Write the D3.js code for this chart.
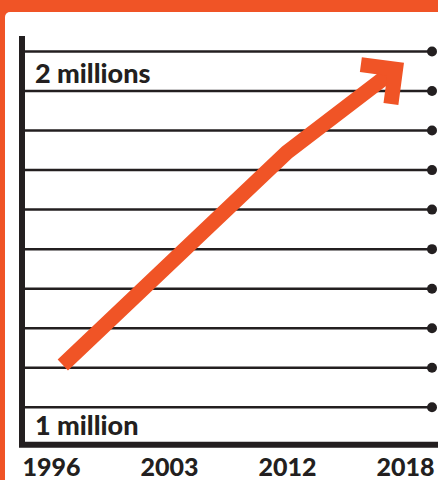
<!DOCTYPE html>
<html>
<head>
<meta charset="utf-8">
<script src="https://cdn.jsdelivr.net/npm/d3@7"></script>
<style>
  html, body { margin: 0; padding: 0; background: #f05426; }
  svg { display: block; }
  text { font-family: Lato, "Noto Sans", sans-serif; font-weight: 900; fill: #231f20; }
</style>
</head>
<body>
<svg width="438" height="480"></svg>
<script>
const orange = '#f05426';
const ink = '#231f20';

// tick labels along the bottom
const years = ['1996', '2003', '2012', '2018'];
// horizontal guide lines, in millions
const gridValues = [1.1, 1.2, 1.3, 1.4, 1.5, 1.6, 1.7, 1.8, 1.9, 2.0];
// band labels
const bandLabels = [{ text: '2 millions', v: 1.92 }, { text: '1 million', v: 1.03 }];
// arrow path: position measured in year slots, value in millions
const lineSlots = [0.1, 2, 2.92];
const lineValues = [1.207, 1.745, 1.955];

const svg = d3.select('svg');
const W = 438, H = 480;

// white panel
svg.append('rect')
    .attr('x', 5).attr('y', 12)
    .attr('width', W).attr('height', H)
    .attr('rx', 5)
    .attr('fill', '#ffffff');

const y = d3.scaleLinear().domain([1, 2]).range([446.8, 51.5]);
const x = d3.scalePoint().domain(years).range([51, 405]);
const xSlot = d3.scaleLinear().domain([0, years.length - 1]).range([51, 405]);

const axisLeft = 22, gridRight = 432;

// grid lines with dots
const grid = svg.append('g');
grid.selectAll('line')
    .data(gridValues)
    .enter().append('line')
    .attr('x1', axisLeft).attr('x2', gridRight)
    .attr('y1', d => y(d)).attr('y2', d => y(d))
    .attr('stroke', ink).attr('stroke-width', 2.5);
grid.selectAll('circle')
    .data(gridValues)
    .enter().append('circle')
    .attr('cx', gridRight).attr('cy', d => y(d))
    .attr('r', 5)
    .attr('fill', ink);

// axes (thick L shape)
svg.append('path')
    .attr('d', `M${axisLeft},36 V${y(1) - 2} H${W}`)
    .attr('fill', 'none')
    .attr('stroke', ink)
    .attr('stroke-width', 6);

// band labels
svg.selectAll('text.band')
    .data(bandLabels)
    .enter().append('text')
    .attr('class', 'band')
    .attr('x', 35)
    .attr('y', d => y(d.v))
    .attr('font-size', 27)
    .text(d => d.text);

// year labels
svg.append('g')
    .attr('transform', `translate(0,${H - 4})`)
    .call(d3.axisBottom(x).tickSize(0).tickPadding(0))
    .call(g => g.select('.domain').remove())
    .selectAll('text')
    .attr('dy', 0)
    .attr('font-size', 25)
    .style('font-family', 'Lato, "Noto Sans", sans-serif')
    .style('font-weight', 900)
    .attr('fill', ink);

// arrow shaft
const pts = lineSlots.map((s, i) => [xSlot(s), y(lineValues[i])]);
svg.append('path')
    .datum(pts)
    .attr('d', d3.line())
    .attr('fill', 'none')
    .attr('stroke', orange)
    .attr('stroke-width', 15)
    .attr('stroke-linejoin', 'round');

// arrow head (chevron)
const tip = pts[pts.length - 1], prev = pts[pts.length - 2];
const back = Math.atan2(prev[1] - tip[1], prev[0] - tip[0]);
const armLen = 35;
const arm = a => [tip[0] + armLen * Math.cos(a), tip[1] + armLen * Math.sin(a)];
svg.append('path')
    .attr('d', d3.line()([arm(back + Math.PI / 4), tip, arm(back - Math.PI / 4)]))
    .attr('fill', 'none')
    .attr('stroke', orange)
    .attr('stroke-width', 15)
    .attr('stroke-linejoin', 'miter');
</script>
</body>
</html>
